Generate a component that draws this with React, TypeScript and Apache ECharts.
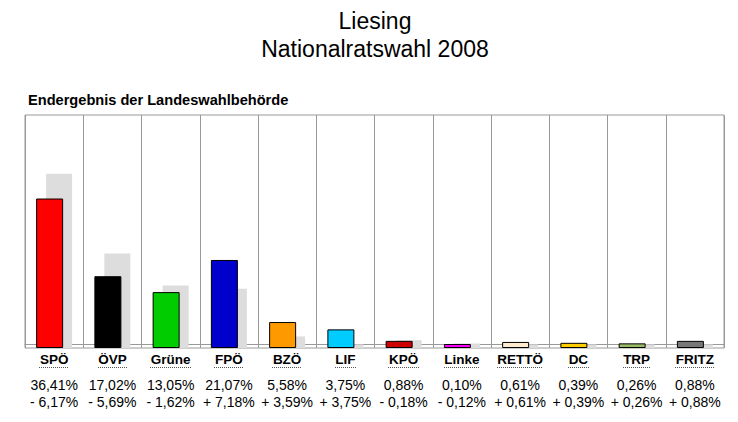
import React, { useEffect, useRef } from "react";
import * as echarts from "echarts";

const parties = ["SPÖ", "ÖVP", "Grüne", "FPÖ", "BZÖ", "LIF", "KPÖ", "Linke", "RETTÖ", "DC", "TRP", "FRITZ"];
const results2008 = [36.41, 17.02, 13.05, 21.07, 5.58, 3.75, 0.88, 0.10, 0.61, 0.39, 0.26, 0.88];
const results2006 = [42.58, 22.71, 14.67, 13.89, 1.99, 0, 1.06, 0.22, 0, 0, 0, 0];
const changes = [-6.17, -5.69, -1.62, 7.18, 3.59, 3.75, -0.18, -0.12, 0.61, 0.39, 0.26, 0.88];
const partyColors = ["#ff0000", "#000000", "#00cc00", "#0000cc", "#ff9900", "#00ccff", "#cc0000", "#ff00ff", "#ffebcd", "#ffcc00", "#99bb66", "#777777"];

const AXIS_BASE = -0.9;
const FONT = "'Liberation Sans', Arial, sans-serif";
const NAME_FONT_SIZE = 13.5;

const fmt = (v: number) => v.toFixed(2).replace(".", ",") + "%";
const fmtChange = (v: number) => (v < 0 ? "- " : "+ ") + fmt(Math.abs(v));

export default function App() {
  const ref = useRef<HTMLDivElement>(null);
  useEffect(() => {
    if (!ref.current) return;
    const chart = echarts.init(ref.current, null, { renderer: "svg" });
    const baseData = parties.map(() => AXIS_BASE);
    chart.setOption({
      animation: false,
      backgroundColor: "#ffffff",
      textStyle: { fontFamily: FONT },
      graphic: [
        { type: "text", id: "t1", x: 375, y: 20.5, style: { text: "Liesing", fontFamily: FONT, fontSize: 23, fill: "#000", align: "center", verticalAlign: "middle" } },
        { type: "text", id: "t2", x: 375, y: 48.5, style: { text: "Nationalratswahl 2008", fontFamily: FONT, fontSize: 23, fill: "#000", align: "center", verticalAlign: "middle" } },
        { type: "text", id: "t3", x: 28, y: 99.5, style: { text: "Endergebnis der Landeswahlbehörde", fontFamily: FONT, fontSize: 14.6, fontWeight: "bold", fill: "#000", align: "left", verticalAlign: "middle" } },
      ],
      grid: { left: 25, right: 14, top: 115, bottom: 74, show: true, borderColor: "#999", borderWidth: 1 },
      xAxis: {
        type: "category",
        data: parties,
        axisLine: { show: true, lineStyle: { color: "#999", width: 1 } },
        axisTick: { show: false },
        splitLine: { show: true, lineStyle: { color: "#999", width: 1 } },
        axisLabel: {
          interval: 0,
          margin: 2,
          formatter: (value: string, idx: number) =>
            `{n|${value}}\n{g| }\n{v|${fmt(results2008[idx])}}\n{v|${fmtChange(changes[idx])}}`,
          rich: {
            n: { fontFamily: FONT, fontSize: NAME_FONT_SIZE, fontWeight: "bold", color: "#000", lineHeight: 18 },
            g: { fontSize: 1, lineHeight: 8 },
            v: { fontFamily: FONT, fontSize: 14, color: "#000", lineHeight: 17 },
          },
        },
      },
      yAxis: {
        type: "value",
        min: AXIS_BASE,
        max: 57.26,
        show: false,
        splitLine: { show: false },
      },
      series: [
        { type: "bar", name: "base1", stack: "cur", stackStrategy: "all", data: baseData, barWidth: 27, barGap: "-63%", itemStyle: { color: "transparent" }, silent: true, z: 1 },
        { type: "bar", name: "base2", stack: "prev", stackStrategy: "all", data: baseData, barWidth: 26, itemStyle: { color: "transparent" }, silent: true, z: 1 },
        {
          type: "bar",
          name: "2008",
          stack: "cur",
          stackStrategy: "all",
          barWidth: 27,
          barGap: "-63%",
          z: 3,
          data: results2008.map((v, i) => ({ value: v - AXIS_BASE, itemStyle: { color: partyColors[i] } })),
          itemStyle: { borderColor: "#000", borderWidth: 1 },
        },
        {
          type: "bar",
          name: "2006",
          stack: "prev",
          stackStrategy: "all",
          barWidth: 26,
          z: 2,
          data: results2006.map((v) => v - AXIS_BASE),
          itemStyle: { color: "#dddddd" },
        },
      ],
    });

    // dotted underlines under party names
    const canvas = document.createElement("canvas");
    const ctx = canvas.getContext("2d");
    const lines: any[] = [];
    if (ctx) {
      ctx.font = `bold ${NAME_FONT_SIZE}px ${FONT}`;
      parties.forEach((p, i) => {
        const cx = chart.convertToPixel({ xAxisIndex: 0 }, p) as number;
        const w = ctx.measureText(p).width + 1;
        lines.push({
          type: "line",
          id: "u" + i,
          shape: { x1: Math.round(cx - w / 2), y1: 367.5, x2: Math.round(cx + w / 2), y2: 367.5 },
          style: { stroke: "#555", lineWidth: 1, lineDash: [1, 1] },
          silent: true,
        });
      });
      chart.setOption({ graphic: lines });
    }
    return () => chart.dispose();
  }, []);
  return <div ref={ref} style={{ position: "fixed", left: 0, top: 0, width: 738, height: 422 }} />;
}
